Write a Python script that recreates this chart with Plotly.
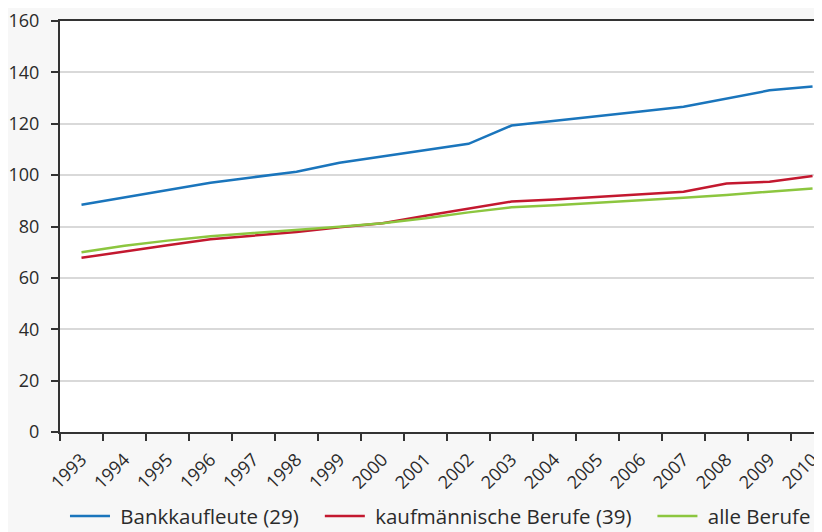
import plotly.graph_objects as go

years = list(range(1993, 2011))

bankkaufleute = [88.5, 91.3, 94.2, 97.0, 99.2, 101.3, 104.8, 107.3, 109.8, 112.2,
                 119.3, 121.2, 123.0, 124.8, 126.6, 129.8, 133.0, 134.5]
kaufm_berufe = [67.8, 70.3, 72.7, 75.0, 76.5, 77.9, 79.7, 81.3, 84.2, 87.0,
                89.7, 90.5, 91.5, 92.5, 93.5, 96.7, 97.4, 99.7]
alle_berufe = [70.0, 72.5, 74.5, 76.2, 77.5, 78.6, 79.9, 81.3, 83.2, 85.5,
               87.5, 88.3, 89.2, 90.2, 91.2, 92.3, 93.5, 94.8]

series = [
    ("Bankkaufleute (29)", bankkaufleute, "#1a75bc"),
    ("kaufmännische Berufe (39)", kaufm_berufe, "#c3182f"),
    ("alle Berufe", alle_berufe, "#8cc63f"),
]

FONT = "Open Sans"
TEXT = "#2b2b2b"
AXIS = "#333333"
NBSP = "\u00a0"

# the page body has an 8px margin, so the figure is drawn 8px smaller
# and the margins are shifted to keep the plot area where it should be
W, H = 814, 524

fig = go.Figure()
for i, (name, vals, color) in enumerate(series):
    # non-breaking spaces widen the gaps between legend entries
    label = NBSP + name + (NBSP * 3 if i < len(series) - 1 else "")
    fig.add_trace(go.Scatter(
        x=years, y=vals, mode="lines", name=label,
        line=dict(color=color, width=2.5),
    ))

fig.update_xaxes(
    range=[1992.5, 2010.22],
    tickmode="array", tickvals=years, ticktext=[str(y) for y in years],
    tickangle=-45,
    ticks="",
    ticklabelstandoff=8,
    ticklabeloverflow="allow",
    tickfont=dict(family=FONT, size=18, color=TEXT),
    minor=dict(tickmode="linear", tick0=1992.5, dtick=1,
               ticks="outside", ticklen=7, tickwidth=2, tickcolor=AXIS,
               showgrid=False),
    showgrid=False, zeroline=False,
    showline=True, linecolor=AXIS, linewidth=2, mirror=True,
)
fig.update_yaxes(
    range=[0, 160], dtick=20, tick0=0,
    ticks="outside", ticklen=7, tickwidth=2, tickcolor=AXIS,
    ticklabelstandoff=8,
    ticklabeloverflow="allow",
    tickfont=dict(family=FONT, size=18, color=TEXT),
    showgrid=True, gridcolor="#d9d9d9", gridwidth=1.5,
    zeroline=False,
    showline=True, linecolor=AXIS, linewidth=2,
)

fig.update_layout(
    width=W, height=H,
    margin=dict(l=52, r=0, t=10, b=100),
    paper_bgcolor="#f7f7f7",
    plot_bgcolor="white",
    font=dict(family=FONT, color=TEXT),
    showlegend=True,
    legend=dict(
        orientation="h",
        x=0.07, xref="container", xanchor="left",
        y=0.03, yref="container", yanchor="middle",
        font=dict(family=FONT, size=20.5, color=TEXT),
        bgcolor="rgba(0,0,0,0)",
        itemwidth=40,
        tracegroupgap=0,
    ),
)

fig.write_html("out.html")
